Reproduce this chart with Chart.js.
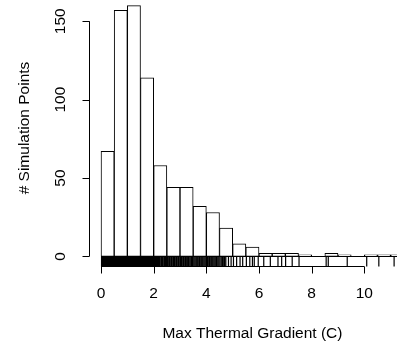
<!DOCTYPE html>
<html>
<head>
<meta charset="utf-8">
<script src="https://cdn.jsdelivr.net/npm/chart.js@4.4.1/dist/chart.umd.min.js"></script>
<style>
  html, body { margin: 0; padding: 0; background: #fff; }
</style>
</head>
<body>
<canvas id="myChart" width="397" height="345"></canvas>
<script>
// histogram bins (width 0.5) and counts
const binStarts = [0, 0.5, 1, 1.5, 2, 2.5, 3, 3.5, 4, 4.5, 5, 5.5, 6, 6.5, 7, 7.5, 8, 8.5, 9, 9.5, 10, 10.5, 11];
const binCounts = [67, 157, 160, 114, 58, 44, 44, 32, 28, 18, 8, 6, 2, 2, 2, 1, 0, 2, 1, 0, 1, 1, 1];
const binWidth = 0.5;

// rug marks under the bars
const rugValues = [
    0.02, 0.05, 0.09, 0.12, 0.16, 0.19, 0.23, 0.27, 0.30, 0.34, 0.37, 0.41, 0.44, 0.48,
    0.51, 0.54, 0.57, 0.60, 0.63, 0.66, 0.69, 0.72, 0.75, 0.78, 0.81, 0.84, 0.87, 0.90, 0.93, 0.96, 0.99,
    1.02, 1.05, 1.08, 1.11, 1.14, 1.17, 1.20, 1.23, 1.26, 1.29, 1.32, 1.35, 1.38, 1.41, 1.44, 1.47,
    1.50, 1.53, 1.56, 1.60, 1.63, 1.66, 1.70, 1.73, 1.77, 1.80, 1.84, 1.87, 1.91, 1.95, 1.98,
    2.02, 2.06, 2.10, 2.14, 2.18, 2.22, 2.27, 2.31, 2.35, 2.40, 2.44, 2.48,
    2.52, 2.57, 2.61, 2.66, 2.70, 2.75, 2.79, 2.84, 2.88, 2.93, 2.97,
    3.02, 3.06, 3.11, 3.15, 3.20, 3.24, 3.29, 3.33, 3.38, 3.43, 3.47,
    3.52, 3.57, 3.62, 3.67, 3.72, 3.76, 3.81, 3.86, 3.91, 3.96,
    4.01, 4.05, 4.10, 4.14, 4.19, 4.24, 4.29, 4.34, 4.39, 4.44,
    4.49, 4.55, 4.60, 4.64, 4.69, 4.74,
    4.84, 4.94, 5.03, 5.15, 5.28, 5.38,
    5.52, 5.65, 5.75, 5.82, 5.97,
    6.18, 6.43, 6.72, 6.86, 7.01, 7.26, 7.52,
    8.55, 8.63, 9.35, 10.09, 10.55, 11.13
];

const xTicks = [0, 2, 4, 6, 8, 10];
const yTicks = [0, 50, 100, 150];
const xTitle = 'Max Thermal Gradient (C)';
const yTitle = '# Simulation Points';

const FONT = '15.5px "Liberation Sans", Arial, sans-serif';

// R style axes, rug and baseline drawn from the chart's scales
const rPlot = {
    id: 'rPlot',
    afterDatasetsDraw(chart) {
        const { ctx, scales: { x, y }, chartArea } = chart;
        ctx.save();
        ctx.strokeStyle = '#000';
        ctx.fillStyle = '#000';

        // baseline under all bins (zero bins too)
        ctx.lineWidth = 1;
        ctx.beginPath();
        ctx.moveTo(x.getPixelForValue(binStarts[0]), Math.round(y.getPixelForValue(0)) + 0.5);
        ctx.lineTo(x.getPixelForValue(binStarts[binStarts.length - 1] + binWidth), Math.round(y.getPixelForValue(0)) + 0.5);
        ctx.stroke();

        // rug
        const bottom = chartArea.bottom;
        ctx.lineWidth = 1.2;
        ctx.beginPath();
        rugValues.forEach(v => {
            const px = x.getPixelForValue(v);
            ctx.moveTo(px, bottom);
            ctx.lineTo(px, bottom - 9.5);
        });
        ctx.stroke();

        // x axis
        ctx.lineWidth = 1;
        const xa = Math.round(bottom) + 0.5;
        ctx.beginPath();
        ctx.moveTo(x.getPixelForValue(xTicks[0]), xa);
        ctx.lineTo(x.getPixelForValue(xTicks[xTicks.length - 1]), xa);
        xTicks.forEach(t => {
            const px = Math.round(x.getPixelForValue(t)) + 0.5;
            ctx.moveTo(px, xa);
            ctx.lineTo(px, xa + 7);
        });
        ctx.stroke();
        ctx.font = FONT;
        ctx.textAlign = 'center';
        ctx.textBaseline = 'middle';
        xTicks.forEach(t => ctx.fillText(String(t), x.getPixelForValue(t), xa + 27));
        ctx.fillText(xTitle, (chartArea.left + chartArea.right + 19) / 2, xa + 67);

        // y axis
        const ya = Math.round(chartArea.left) + 0.5;
        ctx.beginPath();
        ctx.moveTo(ya, y.getPixelForValue(yTicks[0]));
        ctx.lineTo(ya, y.getPixelForValue(yTicks[yTicks.length - 1]));
        yTicks.forEach(t => {
            const py = Math.round(y.getPixelForValue(t)) + 0.5;
            ctx.moveTo(ya, py);
            ctx.lineTo(ya - 7, py);
        });
        ctx.stroke();
        yTicks.forEach(t => {
            ctx.save();
            ctx.translate(ya - 29, y.getPixelForValue(t));
            ctx.rotate(-Math.PI / 2);
            ctx.fillText(String(t), 0, 0);
            ctx.restore();
        });
        ctx.save();
        ctx.translate(25, 128);
        ctx.rotate(-Math.PI / 2);
        ctx.fillText(yTitle, 0, 0);
        ctx.restore();

        ctx.restore();
    }
};

const data = {
    datasets: [{
        data: binStarts.map((s, i) => ({ x: s + binWidth / 2, y: binCounts[i] })),
        backgroundColor: '#fff',
        borderColor: '#000',
        borderWidth: 1,
        borderSkipped: false,
        barPercentage: 1,
        categoryPercentage: 1
    }]
};

const config = {
    type: 'bar',
    data: data,
    options: {
        responsive: false,
        animation: false,
        layout: { padding: { left: 88.9, right: 0, top: 0, bottom: 78.6 } },
        plugins: { legend: { display: false }, tooltip: { enabled: false } },
        scales: {
            x: { type: 'linear', min: -0.46, max: 11.24, display: false, offset: false },
            y: { min: -6.4, max: 163.6, display: false }
        }
    },
    plugins: [rPlot]
};

const ctx = document.getElementById('myChart').getContext('2d');
new Chart(ctx, config);
</script>
</body>
</html>
